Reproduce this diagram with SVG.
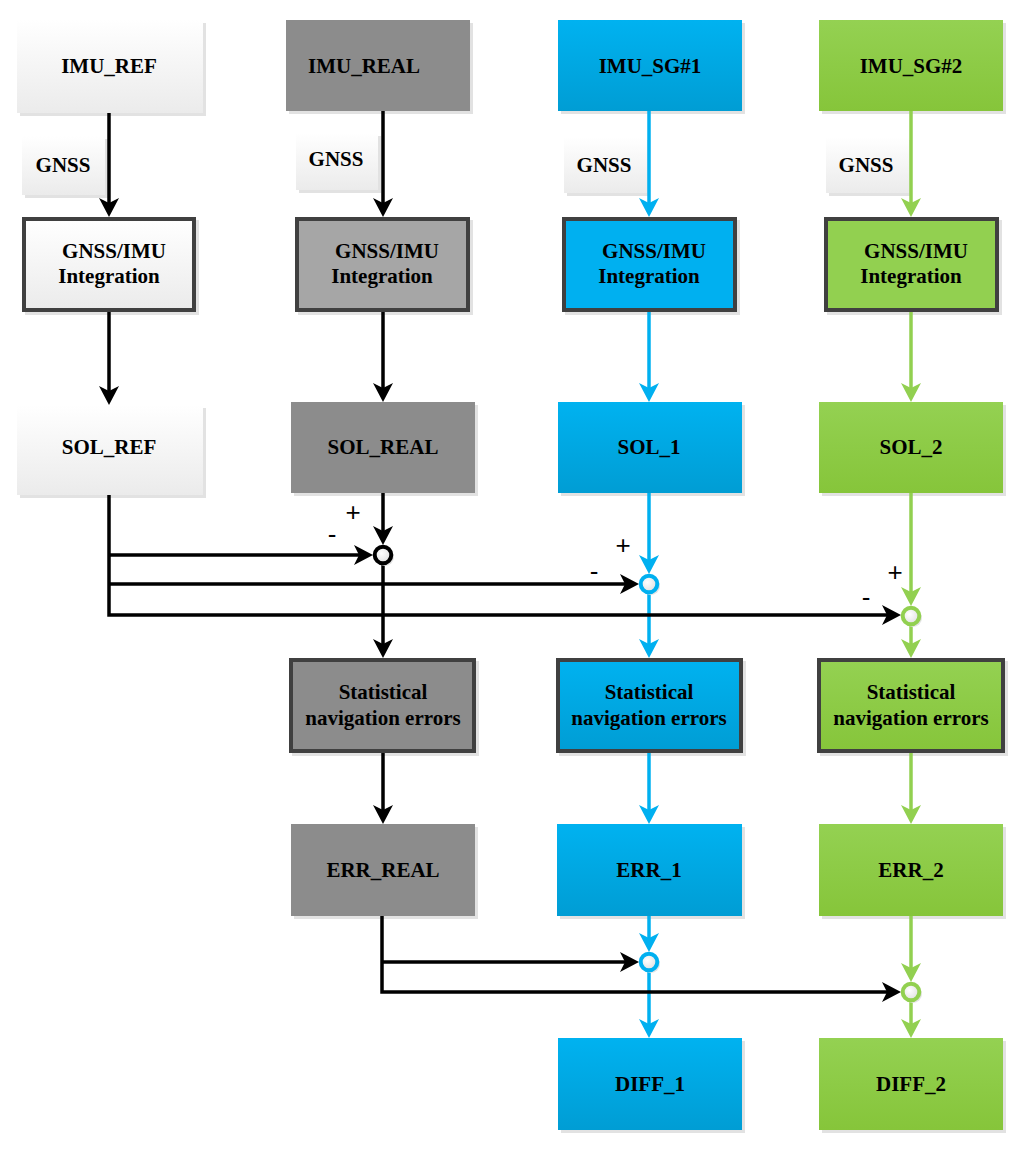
<svg xmlns="http://www.w3.org/2000/svg" width="1024" height="1150" viewBox="0 0 1024 1150">
<defs>
<linearGradient id="gW" x1="0" y1="0" x2="0" y2="1"><stop offset="0" stop-color="#ffffff"/><stop offset="1" stop-color="#ebebeb"/></linearGradient>
<linearGradient id="gB" x1="0" y1="0" x2="0" y2="1"><stop offset="0" stop-color="#00b2f0"/><stop offset="1" stop-color="#009dd4"/></linearGradient>
<linearGradient id="gG" x1="0" y1="0" x2="0" y2="1"><stop offset="0" stop-color="#94d152"/><stop offset="1" stop-color="#86c53a"/></linearGradient>
<radialGradient id="gC" cx="0.4" cy="0.4" r="0.7"><stop offset="0" stop-color="#ffffff"/><stop offset="1" stop-color="#dcdcdc"/></radialGradient>
<marker id="aK" viewBox="-19 -10 21 20" refX="-8" refY="0" markerWidth="21" markerHeight="20" markerUnits="userSpaceOnUse" orient="auto"><path d="M0,0 L-19,-10 L-14,0 L-19,10 Z" fill="#000"/></marker>
<marker id="aB" viewBox="-19 -10 21 20" refX="-8" refY="0" markerWidth="21" markerHeight="20" markerUnits="userSpaceOnUse" orient="auto"><path d="M0,0 L-19,-10 L-14,0 L-19,10 Z" fill="#00b0f0"/></marker>
<marker id="aG" viewBox="-19 -10 21 20" refX="-8" refY="0" markerWidth="21" markerHeight="20" markerUnits="userSpaceOnUse" orient="auto"><path d="M0,0 L-19,-10 L-14,0 L-19,10 Z" fill="#92d050"/></marker>
</defs>
<style>
.sh{fill:#e2e2e2}
.w{fill:url(#gW)}
.gr{fill:#8c8c8c}
.lg{fill:#a6a6a6}
.b{fill:url(#gB)}
.bf{fill:#00b0f0}
.g{fill:url(#gG)}
.gf{fill:#92d050}
.bd{stroke:#404040;stroke-width:4}
text{font-family:"Liberation Serif","Times New Roman",serif;font-weight:bold;font-size:21px;fill:#000;text-anchor:middle}
text.sg{font-family:"Liberation Sans",Arial,sans-serif;font-weight:normal;font-size:26px;fill:#000}
.k{fill:none;stroke:#000;stroke-width:3.5}
.kb{fill:none;stroke:#00b0f0;stroke-width:3.5}
.kg{fill:none;stroke:#92d050;stroke-width:3.5}
.cir{fill:url(#gC);stroke-width:4}
</style>
<rect width="1024" height="1150" fill="#fff"/>

<!-- Column REF -->
<g id="imu_ref"><rect class="sh" x="20" y="23" width="186" height="93"/><rect class="w" x="17" y="20" width="186" height="93"/><text x="109" y="73">IMU_REF</text></g>
<g id="gnss_ref"><rect class="sh" x="25" y="139" width="83" height="59"/><rect class="w" x="22" y="136" width="83" height="59"/><text x="63" y="172">GNSS</text></g>
<g id="int_ref"><rect class="sh" x="25" y="220" width="174" height="95"/><rect class="w bd" x="24" y="219" width="170" height="91"/><text x="114" y="258">GNSS/IMU</text><text x="109" y="283">Integration</text></g>
<g id="sol_ref"><rect class="sh" x="20" y="408" width="186" height="90"/><rect class="w" x="17" y="405" width="186" height="90"/><text x="109" y="454">SOL_REF</text></g>

<!-- Column REAL -->
<g id="imu_real"><rect class="sh" x="289" y="23" width="184" height="91"/><rect class="gr" x="286" y="20" width="184" height="91"/><text x="364" y="73">IMU_REAL</text></g>
<g id="gnss_real"><rect class="sh" x="299" y="136" width="82" height="57"/><rect class="w" x="296" y="133" width="82" height="57"/><text x="336" y="166">GNSS</text></g>
<g id="int_real"><rect class="sh" x="298" y="220" width="175" height="95"/><rect class="lg bd" x="297" y="219" width="171" height="91"/><text x="387" y="258">GNSS/IMU</text><text x="382" y="283">Integration</text></g>
<g id="sol_real"><rect class="sh" x="294" y="405" width="184" height="91"/><rect class="gr" x="291" y="402" width="184" height="91"/><text x="383" y="454">SOL_REAL</text></g>
<g id="stat_real"><rect class="sh" x="292" y="661" width="187" height="95"/><rect class="gr bd" x="291" y="660" width="183" height="91"/><text x="383" y="699">Statistical</text><text x="383" y="725">navigation errors</text></g>
<g id="err_real"><rect class="sh" x="294" y="827" width="184" height="92"/><rect class="gr" x="291" y="824" width="184" height="92"/><text x="383" y="877">ERR_REAL</text></g>

<!-- Column SG#1 -->
<g id="imu_sg1"><rect class="sh" x="561" y="23" width="184" height="91"/><rect class="b" x="558" y="20" width="184" height="91"/><text x="650" y="73">IMU_SG#1</text></g>
<g id="gnss_sg1"><rect class="sh" x="567" y="140" width="83" height="56"/><rect class="w" x="564" y="137" width="83" height="56"/><text x="604" y="172">GNSS</text></g>
<g id="int_sg1"><rect class="sh" x="565" y="220" width="175" height="95"/><rect class="bf bd" x="564" y="219" width="171" height="91"/><text x="654" y="258">GNSS/IMU</text><text x="649" y="283">Integration</text></g>
<g id="sol_1"><rect class="sh" x="561" y="405" width="184" height="91"/><rect class="b" x="558" y="402" width="184" height="91"/><text x="649" y="454">SOL_1</text></g>
<g id="stat_1"><rect class="sh" x="559" y="661" width="187" height="95"/><rect class="b bd" x="558" y="660" width="183" height="91"/><text x="649" y="699">Statistical</text><text x="649" y="725">navigation errors</text></g>
<g id="err_1"><rect class="sh" x="560" y="827" width="185" height="92"/><rect class="b" x="557" y="824" width="185" height="92"/><text x="649" y="877">ERR_1</text></g>
<g id="diff_1"><rect class="sh" x="561" y="1041" width="184" height="92"/><rect class="b" x="558" y="1038" width="184" height="92"/><text x="650" y="1091">DIFF_1</text></g>

<!-- Column SG#2 -->
<g id="imu_sg2"><rect class="sh" x="822" y="23" width="184" height="91"/><rect class="g" x="819" y="20" width="184" height="91"/><text x="911" y="73">IMU_SG#2</text></g>
<g id="gnss_sg2"><rect class="sh" x="829" y="140" width="83" height="56"/><rect class="w" x="826" y="137" width="83" height="56"/><text x="866" y="172">GNSS</text></g>
<g id="int_sg2"><rect class="sh" x="827" y="220" width="175" height="95"/><rect class="gf bd" x="826" y="219" width="171" height="91"/><text x="916" y="258">GNSS/IMU</text><text x="911" y="283">Integration</text></g>
<g id="sol_2"><rect class="sh" x="822" y="405" width="184" height="91"/><rect class="g" x="819" y="402" width="184" height="91"/><text x="911" y="454">SOL_2</text></g>
<g id="stat_2"><rect class="sh" x="820" y="661" width="188" height="95"/><rect class="g bd" x="819" y="660" width="184" height="91"/><text x="911" y="699">Statistical</text><text x="911" y="725">navigation errors</text></g>
<g id="err_2"><rect class="sh" x="822" y="827" width="184" height="92"/><rect class="g" x="819" y="824" width="184" height="92"/><text x="911" y="877">ERR_2</text></g>
<g id="diff_2"><rect class="sh" x="822" y="1041" width="184" height="92"/><rect class="g" x="819" y="1038" width="184" height="92"/><text x="911" y="1091">DIFF_2</text></g>

<!-- Connectors -->
<g id="connectors">
<path class="k" d="M109,113 V209" marker-end="url(#aK)"/>
<path class="k" d="M109,312 V397" marker-end="url(#aK)"/>
<path class="k" d="M383,111 V209" marker-end="url(#aK)"/>
<path class="k" d="M383,312 V394" marker-end="url(#aK)"/>
<path class="k" d="M383,493 V537" marker-end="url(#aK)"/>
<path class="k" d="M383,565 V650" marker-end="url(#aK)"/>
<path class="k" d="M383,753 V816" marker-end="url(#aK)"/>
<path class="kb" d="M649,111 V209" marker-end="url(#aB)"/>
<path class="kb" d="M649,312 V394" marker-end="url(#aB)"/>
<path class="kb" d="M649,493 V566" marker-end="url(#aB)"/>
<path class="kb" d="M649,594 V650" marker-end="url(#aB)"/>
<path class="kb" d="M649,753 V816" marker-end="url(#aB)"/>
<path class="kb" d="M649,916 V944" marker-end="url(#aB)"/>
<path class="kb" d="M649,972 V1030" marker-end="url(#aB)"/>
<path class="kg" d="M911,111 V209" marker-end="url(#aG)"/>
<path class="kg" d="M911,312 V394" marker-end="url(#aG)"/>
<path class="kg" d="M911,493 V598" marker-end="url(#aG)"/>
<path class="kg" d="M911,626 V650" marker-end="url(#aG)"/>
<path class="kg" d="M911,753 V816" marker-end="url(#aG)"/>
<path class="kg" d="M911,916 V974" marker-end="url(#aG)"/>
<path class="kg" d="M911,1002 V1030" marker-end="url(#aG)"/>
<path class="k" d="M109,495 V615 H893" marker-end="url(#aK)"/>
<path class="k" d="M109,555 H365" marker-end="url(#aK)"/>
<path class="k" d="M109,584 H631" marker-end="url(#aK)"/>
<path class="k" d="M382,916 V992 H893" marker-end="url(#aK)"/>
<path class="k" d="M382,962 H631" marker-end="url(#aK)"/>
</g>

<!-- Summing junctions -->
<g id="sum1"><circle cx="385" cy="557" r="9" fill="#e4e4e4"/><circle class="cir" cx="383" cy="555" r="8.3" stroke="#000"/></g>
<g id="sum2"><circle cx="651" cy="586" r="9" fill="#e4e4e4"/><circle class="cir" cx="649" cy="584" r="8.3" stroke="#00b0f0"/></g>
<g id="sum3"><circle cx="913" cy="618" r="9" fill="#e4e4e4"/><circle class="cir" cx="911" cy="616" r="8.3" stroke="#92d050"/></g>
<g id="sum4"><circle cx="651" cy="964" r="9" fill="#e4e4e4"/><circle class="cir" cx="649" cy="962" r="8.3" stroke="#00b0f0"/></g>
<g id="sum5"><circle cx="913" cy="994" r="9" fill="#e4e4e4"/><circle class="cir" cx="911" cy="992" r="8.3" stroke="#92d050"/></g>

<g id="signs">
<text class="sg" x="353" y="521">+</text>
<text class="sg" x="332" y="543">-</text>
<text class="sg" x="623" y="554">+</text>
<text class="sg" x="594" y="580">-</text>
<text class="sg" x="895" y="581">+</text>
<text class="sg" x="866" y="606">-</text>
</g>
</svg>
